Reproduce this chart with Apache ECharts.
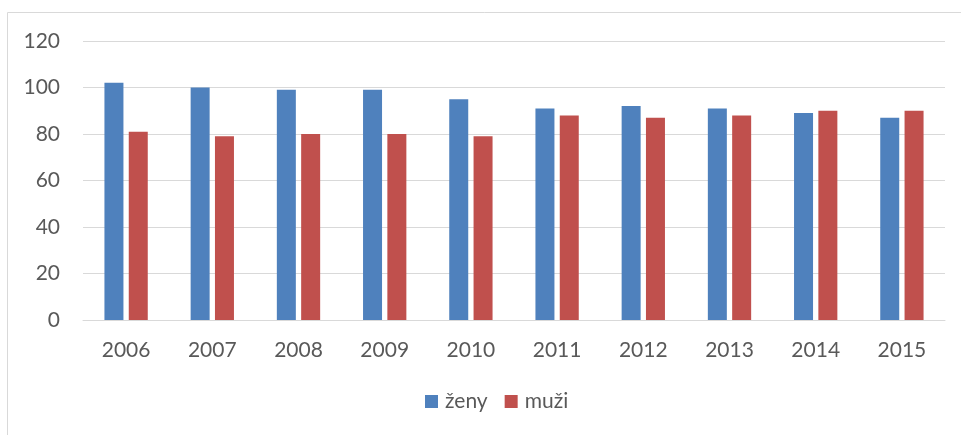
<!DOCTYPE html>
<html>
<head>
<meta charset="utf-8">
<script src="https://cdn.jsdelivr.net/npm/echarts@6/dist/echarts.min.js"></script>
<style>
  html, body { margin: 0; padding: 0; background: #fff; }
  #main { width: 961px; height: 435px; }
</style>
</head>
<body>
<div id="main"></div>
<script>
var years = ['2006', '2007', '2008', '2009', '2010', '2011', '2012', '2013', '2014', '2015'];
var zeny = [102, 100, 99, 99, 95, 91, 92, 91, 89, 87];
var muzi = [81, 79, 80, 80, 79, 88, 87, 88, 90, 90];

var textColor = '#595959';
var fontName = 'Lato';

var myChart = echarts.init(document.getElementById('main'));

var option = {
    animation: false,
    graphic: [{
        type: 'polyline',
        shape: { points: [[7.5, 435], [7.5, 12.5], [961, 12.5]] },
        style: { stroke: '#d9d9d9', lineWidth: 1, fill: null },
        silent: true
    }],
    grid: { left: 83, right: 16, top: 41, bottom: 115 },
    legend: {
        data: ['ženy', 'muži'],
        bottom: 18,
        left: 420,
        itemWidth: 13,
        itemHeight: 13,
        itemGap: 17,
        icon: 'rect',
        textStyle: { color: textColor, fontSize: 21, fontFamily: fontName, padding: [0, 0, 0, 2] }
    },
    xAxis: {
        type: 'category',
        data: years,
        axisLine: { lineStyle: { color: '#d9d9d9', width: 1 } },
        axisTick: { show: false },
        axisLabel: { color: textColor, fontSize: 21, fontFamily: fontName, margin: 20 }
    },
    yAxis: {
        type: 'value',
        min: 0,
        max: 120,
        interval: 20,
        axisLine: { show: false },
        axisTick: { show: false },
        splitLine: { lineStyle: { color: '#d9d9d9', width: 1 } },
        axisLabel: { color: textColor, fontSize: 21, fontFamily: fontName, margin: 23 }
    },
    series: [{
        name: 'ženy',
        type: 'bar',
        data: zeny,
        barWidth: 19,
        barGap: '28%',
        itemStyle: { color: '#4f81bd' }
    }, {
        name: 'muži',
        type: 'bar',
        data: muzi,
        barWidth: 19,
        itemStyle: { color: '#c0504d' }
    }]
};
myChart.setOption(option);
</script>
</body>
</html>
